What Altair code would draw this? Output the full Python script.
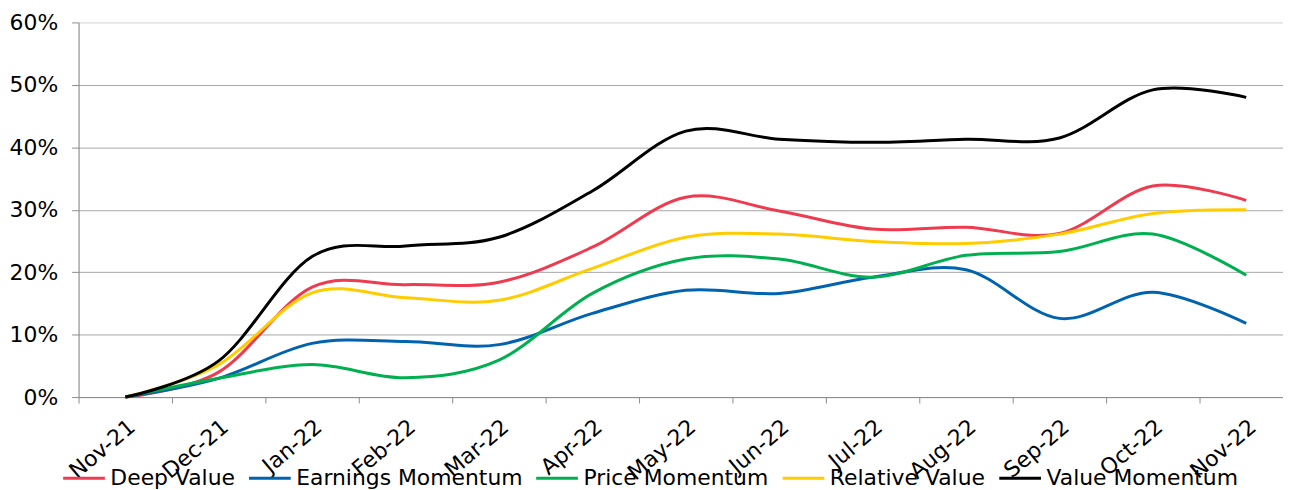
import altair as alt
import pandas as pd

months = ["Nov-21", "Dec-21", "Jan-22", "Feb-22", "Mar-22", "Apr-22", "May-22",
          "Jun-22", "Jul-22", "Aug-22", "Sep-22", "Oct-22", "Nov-22"]

deep_value = [0, 4.0, 17.6, 18.0, 18.4, 24.0, 32.0, 29.8, 26.9, 27.2, 26.2, 33.8, 31.5]
earnings_momentum = [0, 3.0, 8.6, 8.9, 8.4, 13.4, 17.1, 16.6, 19.2, 20.4, 12.6, 16.8, 11.8]
price_momentum = [0, 3.0, 5.2, 3.1, 5.9, 16.6, 22.1, 22.1, 19.2, 22.7, 23.3, 26.1, 19.5]
relative_value = [0, 5.2, 16.7, 15.9, 15.5, 20.6, 25.6, 26.1, 24.9, 24.6, 26.1, 29.4, 30.0]
value_momentum = [0, 5.8, 22.5, 24.2, 25.6, 33.0, 42.6, 41.3, 40.8, 41.3, 41.5, 49.2, 48.0]

series_names = ["Deep Value", "Earnings Momentum", "Price Momentum",
                "Relative Value", "Value Momentum"]
series_values = [deep_value, earnings_momentum, price_momentum,
                 relative_value, value_momentum]
series_colors = ["#EF3B50", "#0063B0", "#00B050", "#FFCC00", "#000000"]
y_ticks = [0, 0.1, 0.2, 0.3, 0.4, 0.5, 0.6]

rows = []
for name, vals in zip(series_names, series_values):
    for m, v in zip(months, vals):
        rows.append({"Month": m, "Series": name, "Value": v / 100.0})
df = pd.DataFrame(rows)

FONT = "DejaVu Sans"
FS = 22

chart = alt.Chart(df).mark_line(
    interpolate="cardinal", tension=0, strokeWidth=3
).encode(
    x=alt.X("Month:N", sort=months,
            scale=alt.Scale(range=[0, 1222], paddingInner=0, paddingOuter=0),
            axis=alt.Axis(title=None, labelAngle=-40, tickBand="extent", grid=False,
                          domainColor="#8c8c8c", tickColor="#8c8c8c", tickSize=6,
                          labelFont=FONT, labelFontSize=FS, labelColor="#000000",
                          labelPadding=13, labelLimit=0)),
    y=alt.Y("Value:Q", scale=alt.Scale(domain=[0, 0.6], nice=False),
            axis=alt.Axis(title=None, values=y_ticks,
                          format=".0%", grid=True,
                          gridColor={"condition": {"test": "datum.value >= 0.59",
                                                   "value": "#e4e4e4"},
                                     "value": "#a6a6a6"},
                          domainColor="#8c8c8c", tickColor="#8c8c8c", tickSize=7,
                          labelPadding=14, labelFont=FONT, labelFontSize=FS,
                          labelColor="#000000")),
    color=alt.Color("Series:N",
                    scale=alt.Scale(domain=series_names, range=series_colors),
                    legend=alt.Legend(title=None, orient="none", direction="horizontal",
                                      legendX=-17, legendY=436,
                                      symbolType="stroke", symbolSize=1764,
                                      symbolStrokeWidth=3, labelFont=FONT,
                                      labelFontSize=FS, labelColor="#000000",
                                      labelLimit=0, labelOffset=4, columnPadding=7)),
    order=alt.Order("Series:N")
).properties(
    width=1212, height=377,
    autosize=alt.AutoSizeParams(type="none"),
    padding={"left": 71, "top": 13, "right": 0, "bottom": 92}
).configure_view(strokeWidth=0).configure(background="white")

chart.save("out.html", embed_options={"renderer": "svg", "actions": False})
